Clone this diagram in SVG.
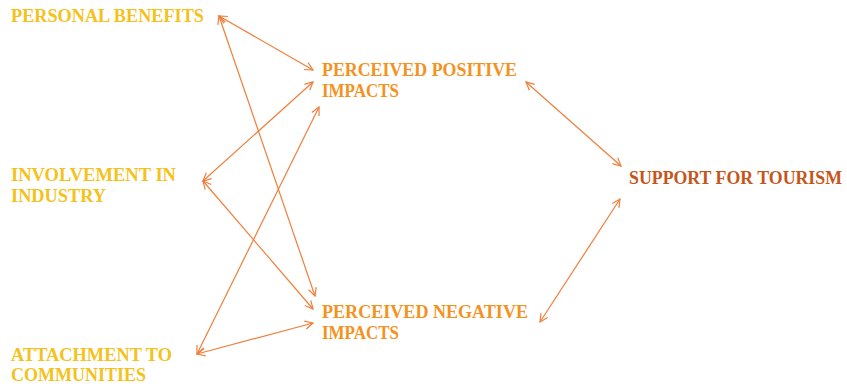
<svg xmlns="http://www.w3.org/2000/svg" width="847" height="386" viewBox="0 0 847 386">
<style>
text{font-family:"Liberation Serif","Times New Roman",serif;font-weight:bold;font-size:18px}
.y{fill:#F4C21A}
.o{fill:#F4921E}
.d{fill:#C5561A}
.c line{stroke:#F07E3A;stroke-width:1.2;fill:none;marker-start:url(#ah);marker-end:url(#ah)}
</style>
<defs>
<marker id="ah" viewBox="0 0 10 10" refX="9" refY="5" markerWidth="10" markerHeight="10" markerUnits="userSpaceOnUse" orient="auto-start-reverse">
<path d="M1,1 L9,5 L1,9" fill="none" stroke="#F07E3A" stroke-width="1.2"/>
</marker>
</defs>
<rect width="847" height="386" fill="#fff"/>
<g class="c" id="connectors">
<line x1="219" y1="16" x2="313" y2="70"/>
<line x1="219" y1="16" x2="315" y2="296"/>
<line x1="203" y1="181" x2="313" y2="82"/>
<line x1="203" y1="181" x2="313" y2="309"/>
<line x1="197" y1="354" x2="319" y2="107"/>
<line x1="197" y1="354" x2="313" y2="323"/>
<line x1="526" y1="82" x2="621" y2="166"/>
<line x1="540" y1="322" x2="620" y2="199"/>
</g>
<g id="personal-benefits"><text class="y" x="11" y="22" textLength="193" lengthAdjust="spacingAndGlyphs">PERSONAL BENEFITS</text></g>
<g id="involvement"><text class="y" x="11" y="181" textLength="165" lengthAdjust="spacingAndGlyphs">INVOLVEMENT IN</text><text class="y" x="11" y="202" textLength="95" lengthAdjust="spacingAndGlyphs">INDUSTRY</text></g>
<g id="attachment"><text class="y" x="11" y="361" textLength="161" lengthAdjust="spacingAndGlyphs">ATTACHMENT TO</text><text class="y" x="11" y="381" textLength="135" lengthAdjust="spacingAndGlyphs">COMMUNITIES</text></g>
<g id="positive"><text class="o" x="322" y="76" textLength="195" lengthAdjust="spacingAndGlyphs">PERCEIVED POSITIVE</text><text class="o" x="322" y="97" textLength="77" lengthAdjust="spacingAndGlyphs">IMPACTS</text></g>
<g id="negative"><text class="o" x="322" y="318" textLength="206" lengthAdjust="spacingAndGlyphs">PERCEIVED NEGATIVE</text><text class="o" x="322" y="339" textLength="77" lengthAdjust="spacingAndGlyphs">IMPACTS</text></g>
<g id="support"><text class="d" x="629" y="184" textLength="213" lengthAdjust="spacingAndGlyphs">SUPPORT FOR TOURISM</text></g>
</svg>
